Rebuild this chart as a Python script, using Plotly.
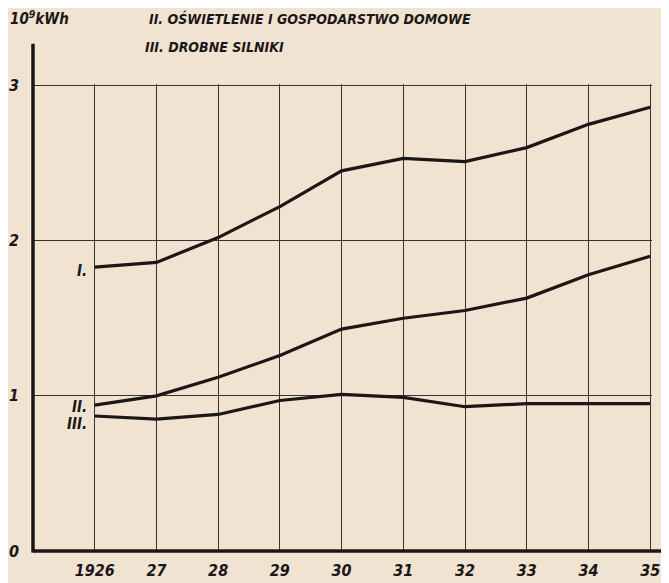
import plotly.graph_objects as go

years = [1926, 1927, 1928, 1929, 1930, 1931, 1932, 1933, 1934, 1935]
year_labels = ["1926", "27", "28", "29", "30", "31", "32", "33", "34", "35"]
series_names = ["I.", "II.", "III."]
series_I = [1.83, 1.86, 2.02, 2.22, 2.45, 2.53, 2.51, 2.60, 2.75, 2.86]
series_II = [0.94, 1.00, 1.12, 1.26, 1.43, 1.50, 1.55, 1.63, 1.78, 1.90]
series_III = [0.87, 0.85, 0.88, 0.97, 1.01, 0.99, 0.93, 0.95, 0.95, 0.95]
y_ticks = [0, 1, 2, 3]
unit_label = "10<sup>9</sup>kWh"
legend_lines = ["II. OŚWIETLENIE I GOSPODARSTWO DOMOWE", "III. DROBNE SILNIKI"]

BG = "#f0e3d2"
INK = "#1c1716"
GRID = "#3b302b"
FONT = "DejaVu Sans Condensed, DejaVu Sans, sans-serif"

fig = go.Figure()
all_series = [series_I, series_II, series_III]
for name, vals in zip(series_names, all_series):
    fig.add_trace(go.Scatter(x=years, y=vals, mode="lines", name=name,
                             line=dict(color=INK, width=3.2),
                             showlegend=False, hoverinfo="skip"))

# series labels next to the first point
label_shifts = [-4, -2, -8]
for name, vals, ys in zip(series_names, all_series, label_shifts):
    fig.add_annotation(x=years[0], y=vals[0], text=name, showarrow=False,
                       xanchor="right", yanchor="middle", xshift=-6, yshift=ys,
                       font=dict(family=FONT, size=15, color=INK,
                                 weight="bold", style="italic"))

# unit and legend text
fig.add_annotation(xref="paper", yref="paper", x=-0.04, y=1.141, text=unit_label,
                   showarrow=False, xanchor="left", yanchor="middle",
                   font=dict(family=FONT, size=15, color=INK, weight="bold", style="italic"))
fig.add_annotation(xref="paper", yref="paper", x=0.184, y=1.141, text=legend_lines[0],
                   showarrow=False, xanchor="left", yanchor="middle",
                   font=dict(family=FONT, size=14, color=INK, weight="bold", style="italic"))
fig.add_annotation(xref="paper", yref="paper", x=0.178, y=1.079, text=legend_lines[1],
                   showarrow=False, xanchor="left", yanchor="middle",
                   font=dict(family=FONT, size=14, color=INK, weight="bold", style="italic"))

# axis lines (y axis extends above the grid, x axis a bit past the last year)
fig.add_shape(type="line", xref="paper", yref="paper", x0=0, x1=0, y0=-0.003, y1=1.086,
              line=dict(color=INK, width=3.5))
fig.add_shape(type="line", xref="paper", yref="paper", x0=0, x1=1.021, y0=0, y1=0,
              line=dict(color=INK, width=3.5))

fig.update_xaxes(range=[1925, 1935.03], tickmode="array", tickvals=years, ticktext=year_labels,
                 showgrid=True, gridcolor=GRID, gridwidth=1.4, zeroline=False,
                 showline=False, ticks="", ticklabelstandoff=8, automargin=False,
                 tickfont=dict(family=FONT, size=16, color=INK, weight="bold", style="italic"))
fig.update_yaxes(range=[0, 3.01], tickmode="array", tickvals=y_ticks,
                 ticktext=[str(v) for v in y_ticks],
                 showgrid=True, gridcolor=GRID, gridwidth=1.4, zeroline=False,
                 showline=False, ticks="", ticklabelstandoff=13, automargin=False,
                 tickfont=dict(family=FONT, size=16, color=INK, weight="bold", style="italic"))

# page body adds an 8px offset, so the figure is sized to fit the remaining window
fig.update_layout(width=661, height=575, margin=dict(l=25, r=17, t=76, b=32),
                  paper_bgcolor=BG, plot_bgcolor=BG, showlegend=False)

fig.write_html("out.html")
